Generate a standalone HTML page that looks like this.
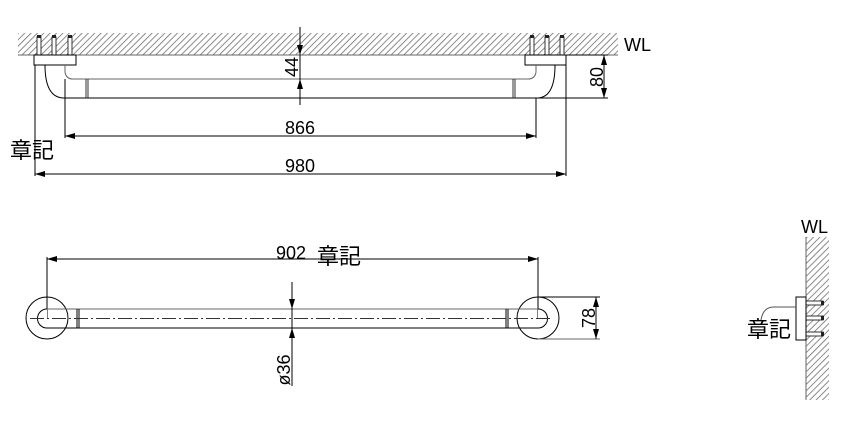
<!DOCTYPE html>
<html><head><meta charset="utf-8"><style>
html,body{margin:0;padding:0;background:#fff;}
svg{display:block;}
text{font-family:"Liberation Sans","Noto Sans CJK JP",sans-serif;fill:#000;}
</style></head><body>
<svg width="855" height="438" viewBox="0 0 855 438" xmlns="http://www.w3.org/2000/svg">
<defs>
<pattern id="h" width="4.5" height="4.5" patternUnits="userSpaceOnUse" patternTransform="rotate(45)">
<rect width="4.5" height="4.5" fill="#fff"/><line x1="0" y1="0" x2="0" y2="4.5" stroke="#666" stroke-width="1.5"/>
</pattern>
<marker id="a" viewBox="0 0 10 6" refX="10" refY="3" markerWidth="11" markerHeight="6" markerUnits="userSpaceOnUse" orient="auto-start-reverse"><path d="M0,0L10,3L0,6z" fill="#000"/></marker>
</defs>
<g stroke="#000" stroke-width="1" fill="none">
<!-- TOP VIEW -->
<rect x="18" y="33" width="600" height="22" fill="url(#h)" stroke="none"/>
<line x1="18" y1="55" x2="618" y2="55" stroke="#666"/>
<g fill="#fff" stroke="#333">
<rect x="37" y="37" width="4" height="18"/><rect x="52" y="37" width="4" height="18"/><rect x="68" y="37" width="4" height="18"/>
<rect x="530" y="37" width="4" height="18"/><rect x="545" y="37" width="4" height="18"/><rect x="560" y="37" width="4" height="18"/>
</g>
<g fill="#222" stroke="none">
<rect x="37" y="35" width="4" height="3"/><rect x="52" y="35" width="4" height="3"/><rect x="68" y="35" width="4" height="3"/>
<rect x="530" y="35" width="4" height="3"/><rect x="545" y="35" width="4" height="3"/><rect x="560" y="35" width="4" height="3"/>
</g>
<rect x="34" y="55" width="42" height="10" fill="#fff"/>
<rect x="525" y="55" width="41" height="10" fill="#fff"/>
<path d="M45,65 Q45,97 63,98" />
<path d="M65,65 L65,72 Q66,79 73,79 L528,79 Q535,79 536,72 L536,65" stroke="#666"/>
<path d="M555,65 Q555,97 538,98" />
<line x1="63" y1="98" x2="608" y2="98"/>
<line x1="86" y1="79" x2="86" y2="98" stroke="#333"/><line x1="88" y1="79" x2="88" y2="98" stroke="#333"/>
<line x1="513" y1="79" x2="513" y2="98" stroke="#333"/><line x1="515" y1="79" x2="515" y2="98" stroke="#333"/>
<line x1="65" y1="79" x2="65" y2="138"/><line x1="536" y1="98" x2="536" y2="138"/>
<line x1="35" y1="65" x2="35" y2="176"/><line x1="566" y1="65" x2="566" y2="176"/>
<line x1="65" y1="136" x2="536" y2="136" marker-start="url(#a)" marker-end="url(#a)"/>
<line x1="35" y1="174" x2="566" y2="174" marker-start="url(#a)" marker-end="url(#a)"/>
<line x1="300" y1="27" x2="300" y2="55" marker-end="url(#a)"/>
<line x1="300" y1="105" x2="300" y2="79" marker-end="url(#a)"/>
<line x1="300" y1="55" x2="300" y2="79"/>
<line x1="566" y1="55" x2="608" y2="55"/>
<line x1="604" y1="55" x2="604" y2="98" marker-start="url(#a)" marker-end="url(#a)"/>

<!-- FRONT VIEW -->
<line x1="47" y1="259" x2="538" y2="259" marker-start="url(#a)" marker-end="url(#a)"/>
<line x1="47" y1="257" x2="47" y2="318"/><line x1="538" y1="257" x2="538" y2="318"/>
<circle cx="47" cy="318" r="21"/><circle cx="538" cy="318" r="21"/>
<path d="M47,309 A9.5,9.5 0 0 0 47,328" fill="#fff"/>
<path d="M538,309 A9.5,9.5 0 0 1 538,328" fill="#fff"/>
<line x1="47" y1="309" x2="538" y2="309" stroke="#666"/>
<line x1="47" y1="328" x2="538" y2="328"/>
<line x1="77" y1="309" x2="77" y2="328"/><line x1="79" y1="309" x2="79" y2="328"/>
<line x1="506" y1="309" x2="506" y2="328"/><line x1="508" y1="309" x2="508" y2="328"/>
<line x1="30" y1="318.5" x2="550" y2="318.5" stroke-dasharray="14,3,2,3" stroke="#333"/>
<line x1="538" y1="297" x2="600" y2="297"/><line x1="538" y1="339" x2="600" y2="339" stroke="#666"/>
<line x1="596" y1="297" x2="596" y2="339" marker-start="url(#a)" marker-end="url(#a)"/>
<line x1="292" y1="282" x2="292" y2="309" marker-end="url(#a)"/>
<line x1="292" y1="386" x2="292" y2="328" marker-end="url(#a)"/>
<line x1="292" y1="309" x2="292" y2="328"/>

<!-- SIDE VIEW -->
<rect x="806" y="237" width="23" height="163" fill="url(#h)" stroke="none"/>
<line x1="806" y1="237" x2="806" y2="400" stroke="#666"/>
<g fill="#fff" stroke="#333">
<rect x="806" y="301" width="17" height="4"/><rect x="806" y="316" width="17" height="4"/><rect x="806" y="332" width="17" height="4"/>
</g>
<g fill="#222" stroke="none"><rect x="821" y="301" width="3" height="4"/><rect x="821" y="316" width="3" height="4"/><rect x="821" y="332" width="3" height="4"/></g>
<rect x="796" y="297" width="10" height="43" fill="#fff"/>
<path d="M796,307 L774,307 Q763,307 761,320" stroke="#555"/>
</g>
<g font-size="18">
<text x="300" y="134" text-anchor="middle">866</text>
<text x="300" y="172" text-anchor="middle">980</text>
<text x="10" y="158" font-size="22">章記</text>
<text x="624" y="51">WL</text>
<text x="801" y="233">WL</text>
<text x="276" y="259">902</text>
<text x="317" y="264" font-size="22">章記</text>
<text x="747" y="337" font-size="22">章記</text>
<text transform="translate(298,67) rotate(-90)" text-anchor="middle">44</text>
<text transform="translate(603,77) rotate(-90)" text-anchor="middle">80</text>
<text transform="translate(595,318) rotate(-90)" text-anchor="middle">78</text>
<text transform="translate(290,370) rotate(-90)" text-anchor="middle">ø36</text>
</g>
</svg>
</body></html>
